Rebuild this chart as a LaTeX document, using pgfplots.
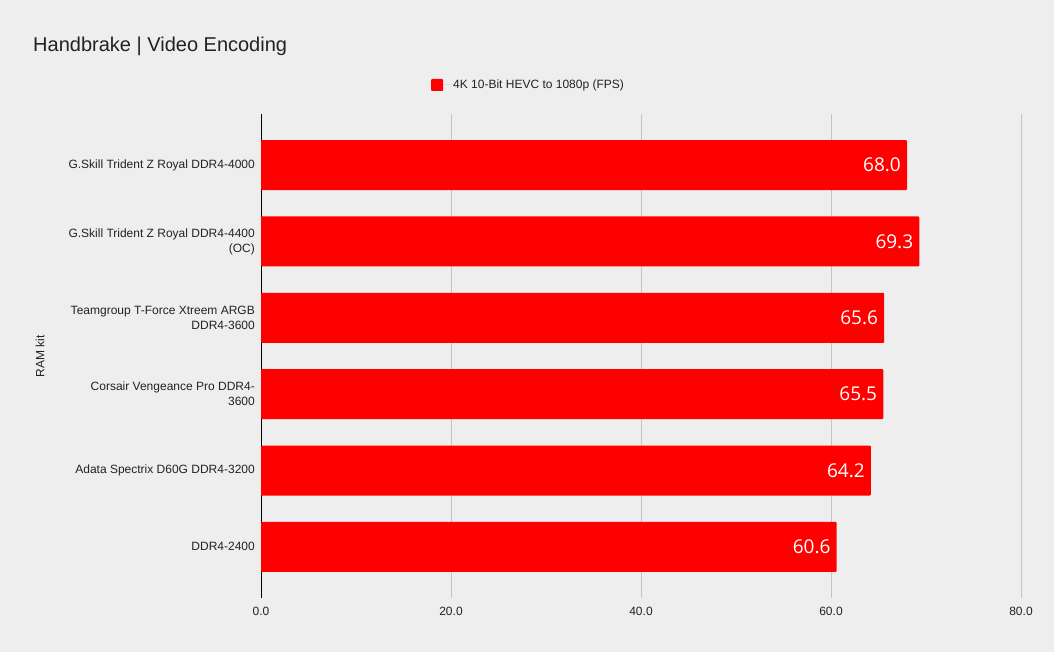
\documentclass[border=0pt]{standalone}
\usepackage{pgfplots}
\pgfplotsset{compat=1.18}
\usepackage{fontspec}
\setmainfont{Liberation Sans}
\newfontfamily\valfont{Open Sans}
\definecolor{bg}{HTML}{EEEEEE}
\definecolor{gridc}{HTML}{C4C4C4}
\definecolor{barred}{HTML}{FF0000}
\definecolor{txt}{HTML}{222222}
\begin{document}
\begin{tikzpicture}
\fill[bg] (0,0) rectangle (1054bp,652bp);
\useasboundingbox (0,0) rectangle (1054bp,652bp);
\node[anchor=base west, font=\fontsize{20bp}{24bp}\selectfont, text=txt, inner sep=0] at (33bp,600bp) {Handbrake | Video Encoding};
\begin{axis}[
  at={(261bp,54bp)}, anchor=south west,
  scale only axis, width=760bp, height=484bp,
  xbar, bar width=50bp, bar shift=0pt,
  xmin=0, xmax=80,
  ymin=-0.67, ymax=5.67, y dir=reverse,
  axis y line*=left, axis x line*=bottom,
  x axis line style={draw=none},
  y axis line style={draw=black, line width=0.8bp, -},
  xtick={0,20,40,60,80},
  ytick={0,1,2,3,4,5},
  yticklabels={{G.Skill Trident Z Royal DDR4-4000},{G.Skill Trident Z Royal DDR4-4400\\(OC)},{Teamgroup T-Force Xtreem ARGB\\DDR4-3600},{Corsair Vengeance Pro DDR4-\\3600},{Adata Spectrix D60G DDR4-3200},{DDR4-2400}},
  yticklabel style={align=right, font=\fontsize{12bp}{15bp}\selectfont, text=txt, inner sep=0pt, xshift=-6bp},
  xticklabel style={font=\fontsize{12bp}{14bp}\selectfont, text=txt, inner sep=0pt, yshift=-9bp},
  /pgf/number format/assume math mode=true,
  xticklabel={\pgfmathprintnumber[fixed, fixed zerofill, precision=1]{\tick}},
  major tick length=0pt,
  xmajorgrids, grid style={gridc, line width=0.8bp},
  ylabel={RAM kit},
  ylabel style={at={(axis description cs:-0.2908,0.5)}, anchor=center, rotate=0, font=\fontsize{12bp}{14bp}\selectfont, text=txt},
  nodes near coords={\pgfmathprintnumber[fixed, fixed zerofill, precision=1]{\pgfplotspointmeta}},
  nodes near coords style={anchor=east, xshift=-6bp, text=white, font=\valfont\fontsize{19bp}{22bp}\selectfont, inner sep=0pt},
  point meta=explicit,
  legend style={at={(0.2237,1.06)}, anchor=west, draw=none, fill=none, inner sep=0pt, font=\fontsize{12bp}{14bp}\selectfont, text=txt, legend cell align=left},
  legend image code/.code={\path (0bp,0bp) -- (20bp,0bp); \fill[barred] (0bp,-6bp) rectangle (12bp,6bp);},
  legend style={/tikz/every even column/.append style={column sep=0pt}},
]
\addplot[fill=barred, draw=none, rounded corners=1bp] coordinates {
  (68.0,0) [68.0]
  (69.3,1) [69.3]
  (65.6,2) [65.6]
  (65.5,3) [65.5]
  (64.2,4) [64.2]
  (60.6,5) [60.6]
};
\addlegendentry{4K 10-Bit HEVC to 1080p (FPS)}
\end{axis}
\end{tikzpicture}
\end{document}
